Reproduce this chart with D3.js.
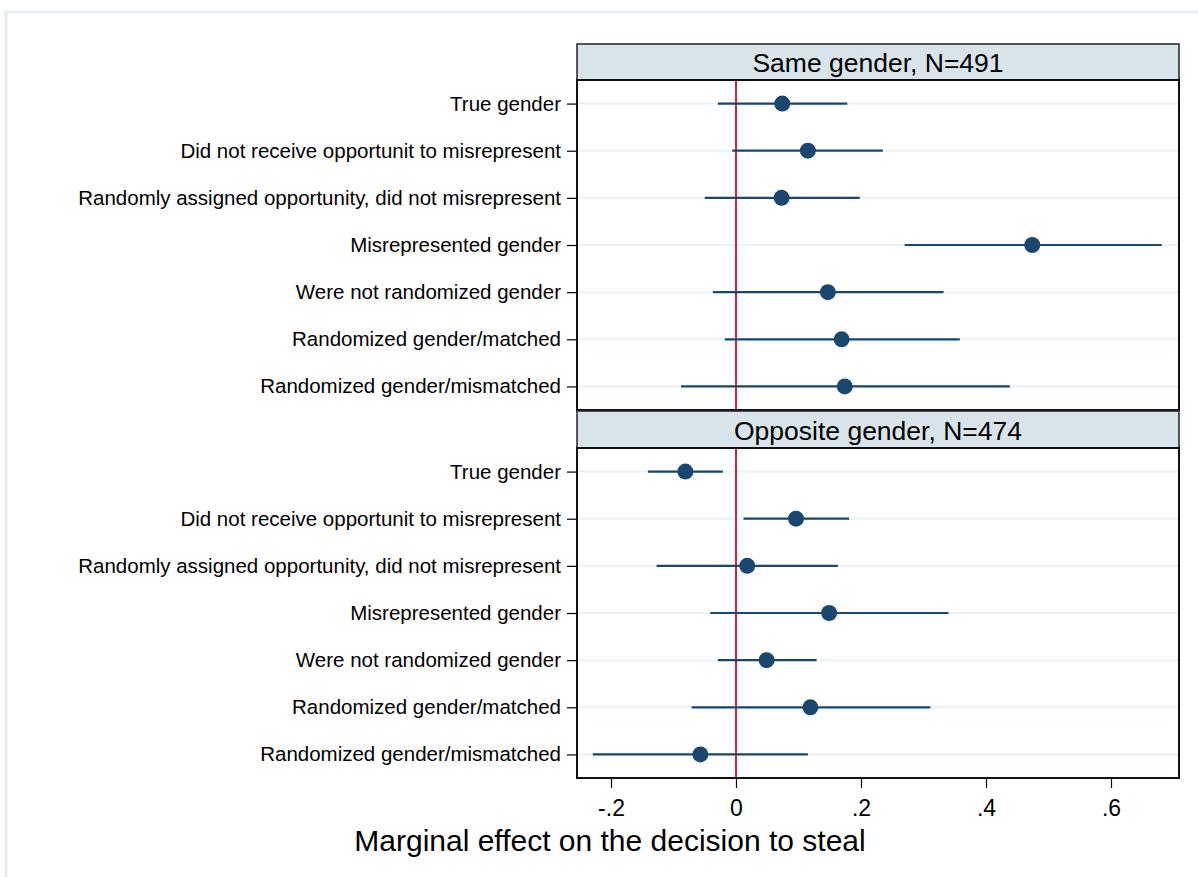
<!DOCTYPE html>
<html>
<head>
<meta charset="utf-8">
<script src="https://cdn.jsdelivr.net/npm/d3@7"></script>
<style>
  html, body { margin: 0; padding: 0; background: #ffffff; }
  svg { display: block; }
  text { font-family: "Liberation Sans", Arial, Helvetica, sans-serif; fill: #000; }
</style>
</head>
<body>
<svg id="chart" width="1198" height="877"></svg>
<script>
// ---- Data ----
const categories = [
  "True gender",
  "Did not receive opportunit to misrepresent",
  "Randomly assigned opportunity, did not misrepresent",
  "Misrepresented gender",
  "Were not randomized gender",
  "Randomized gender/matched",
  "Randomized gender/mismatched"
];
const panelTitles = ["Same gender, N=491", "Opposite gender, N=474"];

const sameEst = [0.074, 0.115, 0.073, 0.474, 0.147, 0.169, 0.174];
const sameLo  = [-0.029, -0.006, -0.050, 0.270, -0.037, -0.018, -0.088];
const sameHi  = [0.178, 0.235, 0.198, 0.681, 0.332, 0.358, 0.438];

const oppEst = [-0.081, 0.096, 0.018, 0.149, 0.049, 0.119, -0.057];
const oppLo  = [-0.141, 0.012, -0.127, -0.041, -0.029, -0.071, -0.229];
const oppHi  = [-0.021, 0.181, 0.163, 0.340, 0.129, 0.311, 0.115];

const xTickValues = [-0.2, 0, 0.2, 0.4, 0.6];
const xTickLabels = ["-.2", "0", ".2", ".4", ".6"];
const xAxisTitle = "Marginal effect on the decision to steal";
const refValue = 0;

// ---- Layout ----
const svg = d3.select("#chart");
const plotLeft = 577, plotRight = 1179;
const panels = [
  { title: panelTitles[0], est: sameEst, lo: sameLo, hi: sameHi, headTop: 44, top: 80, bottom: 410 },
  { title: panelTitles[1], est: oppEst, lo: oppLo, hi: oppHi, headTop: 411, top: 448, bottom: 778 }
];

const navy = "#1a476f";
const red = "#d11f4a";
const gridCol = "#eaf2f3";
const fontFam = "'Liberation Sans', Arial, Helvetica, sans-serif";

// outer light frame
svg.append("rect")
  .attr("x", 6).attr("y", 12).attr("width", 1200).attr("height", 880)
  .attr("fill", "#ffffff").attr("stroke", "#e6edf1").attr("stroke-width", 3);

const x = d3.scaleLinear().domain([-0.2544, 0.7088]).range([plotLeft, plotRight]);

panels.forEach(p => {
  const y = d3.scalePoint().domain(categories).range([p.top, p.bottom]).padding(0.5);
  const g = svg.append("g");

  // header
  g.append("rect")
    .attr("x", plotLeft).attr("y", p.headTop)
    .attr("width", plotRight - plotLeft).attr("height", p.top - p.headTop)
    .attr("fill", "#d9e4ea").attr("stroke", "#222").attr("stroke-width", 1.5);
  g.append("text")
    .attr("x", (plotLeft + plotRight) / 2).attr("y", (p.headTop + p.top) / 2 + 1)
    .attr("text-anchor", "middle").attr("dominant-baseline", "central")
    .style("font-size", "26.5px")
    .text(p.title);

  // plot background
  g.append("rect")
    .attr("x", plotLeft).attr("y", p.top)
    .attr("width", plotRight - plotLeft).attr("height", p.bottom - p.top)
    .attr("fill", "#ffffff");

  // grid lines
  g.selectAll(".grid").data(categories).join("line")
    .attr("x1", plotLeft).attr("x2", plotRight)
    .attr("y1", d => y(d)).attr("y2", d => y(d))
    .attr("stroke", gridCol).attr("stroke-width", 2);

  // y axis
  const yAxis = d3.axisLeft(y).tickSize(10).tickPadding(6);
  const ya = g.append("g").attr("transform", `translate(${plotLeft},0)`).call(yAxis);
  ya.select(".domain").remove();
  ya.selectAll(".tick line").attr("stroke", "#000").attr("stroke-width", 1.2);
  ya.selectAll(".tick text")
    .style("font-size", "20.5px")
    .style("font-family", fontFam)
    .attr("fill", "#000");

  // reference line
  g.append("line")
    .attr("x1", x(refValue)).attr("x2", x(refValue))
    .attr("y1", p.top).attr("y2", p.bottom)
    .attr("stroke", red).attr("stroke-width", 2);

  // CIs
  g.selectAll(".ci").data(categories).join("line")
    .attr("x1", (d, i) => x(p.lo[i])).attr("x2", (d, i) => x(p.hi[i]))
    .attr("y1", d => y(d)).attr("y2", d => y(d))
    .attr("stroke", navy).attr("stroke-width", 2.2);

  // points
  g.selectAll(".pt").data(categories).join("circle")
    .attr("cx", (d, i) => x(p.est[i])).attr("cy", d => y(d))
    .attr("r", 8).attr("fill", navy);

  // border
  g.append("rect")
    .attr("x", plotLeft).attr("y", p.top)
    .attr("width", plotRight - plotLeft).attr("height", p.bottom - p.top)
    .attr("fill", "none").attr("stroke", "#111").attr("stroke-width", 2);
});

// x axis
const xAxis = d3.axisBottom(x)
  .tickValues(xTickValues)
  .tickFormat((d, i) => xTickLabels[i])
  .tickSize(10).tickPadding(12);
const xa = svg.append("g").attr("transform", `translate(0,${panels[1].bottom})`).call(xAxis);
xa.select(".domain").remove();
xa.selectAll(".tick line").attr("stroke", "#000").attr("stroke-width", 1.2);
xa.selectAll(".tick text")
  .style("font-size", "23px")
  .style("font-family", fontFam)
  .attr("fill", "#000");

svg.append("text")
  .attr("x", 610).attr("y", 851)
  .attr("text-anchor", "middle")
  .style("font-size", "30px")
  .text(xAxisTitle);
</script>
</body>
</html>
